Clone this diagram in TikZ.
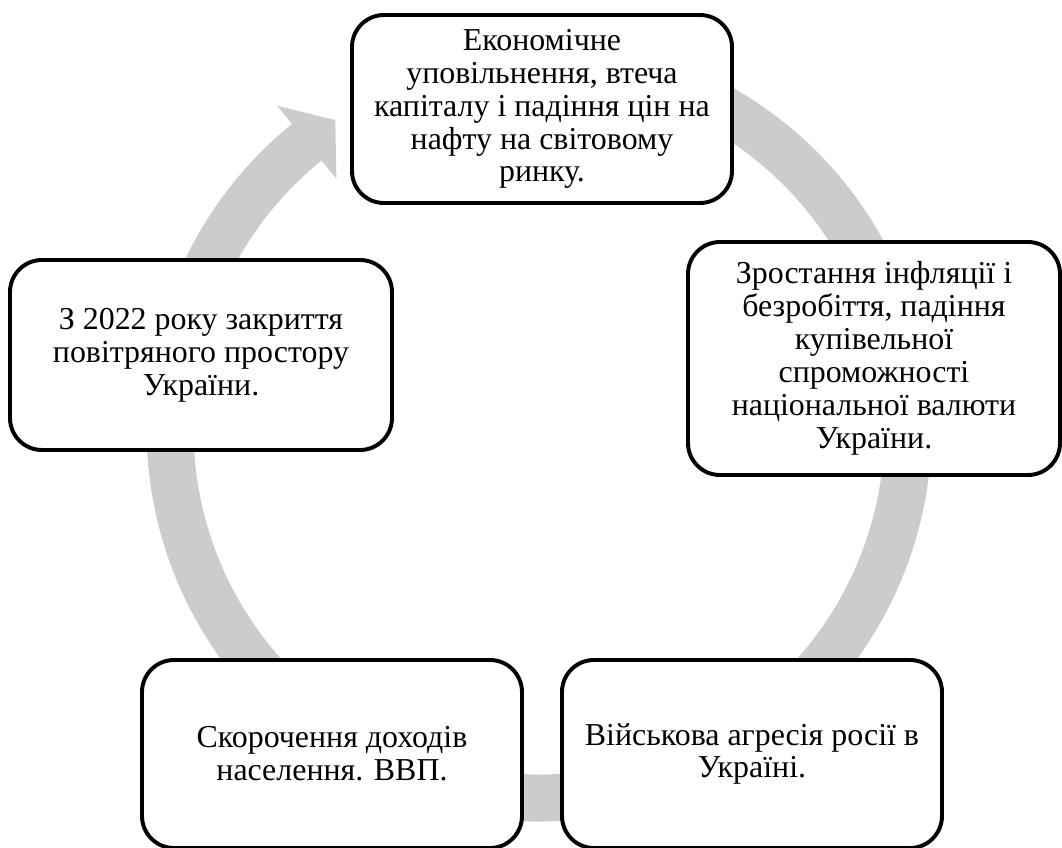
\documentclass[tikz,border=0pt]{standalone}
\usepackage{fontspec}
\setmainfont{Liberation Serif}
\definecolor{cyring}{HTML}{CCCCCC}

\begin{document}
\begin{tikzpicture}[
  every node/.style={font=\fontsize{22.7}{23.4}\selectfont},
  stage/.style={rectangle, draw=black, fill=white, line width=2.8pt, rounded corners=0.8cm, align=center, minimum width=9.5cm, minimum height=4.7cm, inner sep=0pt},
]
\useasboundingbox (-13.475,-10.45) rectangle (13.075,10.725);

% Ring
\fill[cyring] (100:9.8125) arc[start angle=100, end angle=-231, radius=9.8125] -- (-231:10.4) -- (-236.6:9.25) -- (-231:8.05) -- (-231:8.6375) arc[start angle=-231, end angle=100, radius=8.6375] -- cycle;

% Stages
\node[stage] (econ) at (0.075,8.0) {Економічне\\уповільнення, втеча\\капіталу і падіння цін на\\нафту на світовому\\ринку.};
\node[stage, minimum width=9.3cm, minimum height=5.825cm] (infl) at (8.375,1.7625) {Зростання інфляції і\\безробіття, падіння\\купівельної\\спроможності\\національної валюти\\України.};
\node[stage] (war) at (5.325,-8.125) {Військова агресія росії в\\Україні.};
\node[stage] (income) at (-5.175,-8.125) {Скорочення доходів\\населення. ВВП.};
\node[stage, minimum width=9.55cm, minimum height=4.75cm] (sky) at (-8.45,1.85) {З 2022 року закриття\\повітряного простору\\України.};
\end{tikzpicture}
\end{document}
